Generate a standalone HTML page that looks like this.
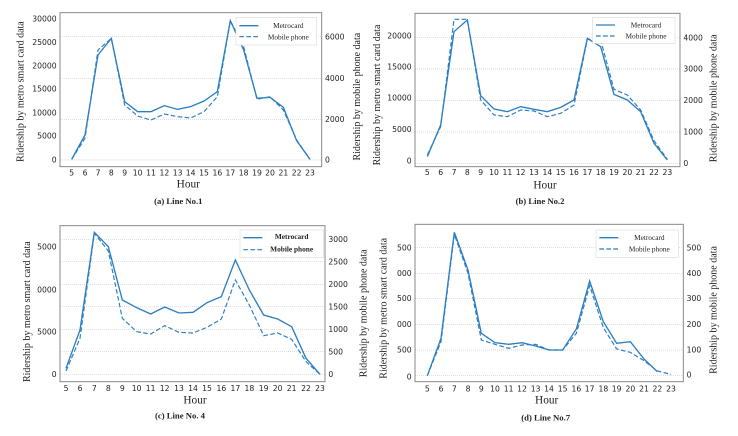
<!DOCTYPE html>
<html><head><meta charset="utf-8"><style>
html,body{margin:0;padding:0;background:#fff;width:738px;height:436px;overflow:hidden;position:relative}
svg{position:absolute}
.t{font-family:"DejaVu Sans","Liberation Sans",sans-serif;font-size:23px;fill:#222}
.s{font-family:"Liberation Serif",serif;fill:#222}
.g{stroke:#ccc;stroke-width:2;stroke-dasharray:3 3}
.m{fill:none;stroke:#2b7ec1;stroke-width:4}
.p{fill:none;stroke:#2b7ec1;stroke-width:3.5;stroke-dasharray:14 7}
.f{fill:none;stroke:#888;stroke-width:3}
</style></head><body>

<!-- (a) -->
<svg style="left:0;top:0" width="370" height="215" viewBox="0 0 1110 645">
<line class="g" x1="180" x2="965" y1="110" y2="110"/><line class="g" x1="180" x2="965" y1="235" y2="235"/><line class="g" x1="180" x2="965" y1="358" y2="358"/><line class="g" x1="180" x2="965" y1="480" y2="480"/>
<rect class="f" x="180" y="38" width="785" height="462"/>
<g class="t" text-anchor="end"><text x="170" y="64">30000</text><text x="170" y="135">25000</text><text x="170" y="205">20000</text><text x="170" y="275">15000</text><text x="170" y="346">10000</text><text x="170" y="416">5000</text><text x="170" y="487">0</text></g>
<g class="t"><text x="975" y="118">6000</text><text x="975" y="243">4000</text><text x="975" y="366">2000</text><text x="975" y="488">0</text></g>
<g class="t" text-anchor="middle"><text x="215" y="527">5</text><text x="255" y="527">6</text><text x="294" y="527">7</text><text x="334" y="527">8</text><text x="374" y="527">9</text><text x="413" y="527">10</text><text x="453" y="527">11</text><text x="493" y="527">12</text><text x="533" y="527">13</text><text x="572" y="527">14</text><text x="612" y="527">15</text><text x="652" y="527">16</text><text x="691" y="527">17</text><text x="731" y="527">18</text><text x="771" y="527">19</text><text x="810" y="527">20</text><text x="850" y="527">21</text><text x="890" y="527">22</text><text x="930" y="527">23</text></g>
<polyline class="m" points="215,478 255,405 294,165 334,115 374,305 413,335 453,335 493,317 533,328 572,320 612,303 652,275 691,62 731,150 771,295 810,292 850,322 890,422 930,478"/>
<polyline class="p" points="215,478 255,415 294,150 334,115 374,315 413,348 453,360 493,342 533,350 572,354 612,335 652,290 691,62 731,140 771,298 810,290 850,330 890,420 930,478"/>
<rect x="708" y="52" width="242" height="83" fill="#fff" stroke="#ddd" stroke-width="2"/>
<line x1="718" x2="775" y1="77" y2="77" class="m"/><line x1="718" x2="775" y1="110" y2="110" class="p"/>
<text class="s" x="865" y="84" font-size="22" text-anchor="middle">Metrocard</text><text class="s" x="865" y="118" font-size="22" text-anchor="middle">Mobile phone</text>
<text class="s" x="565" y="562" font-size="34" text-anchor="middle">Hour</text>
<text class="s" x="535" y="612" font-size="26" font-weight="bold" text-anchor="middle">(a) Line  No.1</text>
<text class="s" font-size="30" text-anchor="middle" transform="translate(70,275) rotate(-90)">Ridership by metro smart card data</text>
<text class="s" font-size="30" text-anchor="middle" transform="translate(1080,290) rotate(-90)">Ridership by mobile phone data</text>
</svg>

<!-- (b) -->
<svg style="left:370px;top:0" width="368" height="215" viewBox="0 0 1104 645">
<line class="g" x1="135" x2="930" y1="113" y2="113"/><line class="g" x1="135" x2="930" y1="207" y2="207"/><line class="g" x1="135" x2="930" y1="301" y2="301"/><line class="g" x1="135" x2="930" y1="396" y2="396"/><line class="g" x1="135" x2="930" y1="490" y2="490"/>
<rect class="f" x="135" y="40" width="795" height="460"/>
<g class="t" text-anchor="end"><text x="125" y="115">20000</text><text x="125" y="209">15000</text><text x="125" y="302">10000</text><text x="125" y="396">5000</text><text x="125" y="490">0</text></g>
<g class="t"><text x="940" y="121">4000</text><text x="940" y="215">3000</text><text x="940" y="309">2000</text><text x="940" y="404">1000</text><text x="940" y="498">0</text></g>
<g class="t" text-anchor="middle"><text x="172" y="525">5</text><text x="212" y="525">6</text><text x="252" y="525">7</text><text x="292" y="525">8</text><text x="332" y="525">9</text><text x="372" y="525">10</text><text x="412" y="525">11</text><text x="452" y="525">12</text><text x="492" y="525">13</text><text x="532" y="525">14</text><text x="572" y="525">15</text><text x="612" y="525">16</text><text x="652" y="525">17</text><text x="692" y="525">18</text><text x="732" y="525">19</text><text x="772" y="525">20</text><text x="812" y="525">21</text><text x="852" y="525">22</text><text x="892" y="525">23</text></g>
<polyline class="m" points="172,470 212,375 252,95 292,60 332,287 372,327 412,335 452,320 492,328 532,335 572,322 612,300 652,115 692,140 732,283 772,300 812,335 852,430 892,480"/>
<polyline class="p" points="172,465 212,380 252,58 292,58 332,300 372,345 412,350 452,330 492,333 532,350 572,340 612,315 652,118 692,120 732,268 772,285 812,330 852,422 892,478"/>
<rect x="668" y="52" width="247" height="78" fill="#fff" stroke="#ddd" stroke-width="2"/>
<line x1="678" x2="735" y1="75" y2="75" class="m"/><line x1="678" x2="735" y1="108" y2="108" class="p"/>
<text class="s" x="828" y="82" font-size="22" text-anchor="middle">Metrocard</text><text class="s" x="828" y="116" font-size="22" text-anchor="middle">Mobile phone</text>
<text class="s" x="525" y="565" font-size="34" text-anchor="middle">Hour</text>
<text class="s" x="510" y="612" font-size="26" font-weight="bold" text-anchor="middle">(b) Line No.2</text>
<text class="s" font-size="30" text-anchor="middle" transform="translate(30,285) rotate(-90)">Ridership by metro smart card data</text>
<text class="s" font-size="30" text-anchor="middle" transform="translate(1040,295) rotate(-90)">Ridership by mobile phone data</text>
</svg>

<!-- (c) -->
<svg style="left:0;top:215px" width="370" height="221" viewBox="0 0 1110 663">
<line class="g" x1="180" x2="975" y1="73" y2="73"/><line class="g" x1="180" x2="975" y1="140" y2="140"/><line class="g" x1="180" x2="975" y1="208" y2="208"/><line class="g" x1="180" x2="975" y1="275" y2="275"/><line class="g" x1="180" x2="975" y1="343" y2="343"/><line class="g" x1="180" x2="975" y1="410" y2="410"/><line class="g" x1="180" x2="975" y1="478" y2="478"/>
<rect class="f" x="180" y="32" width="795" height="468"/>
<g class="t" text-anchor="end"><text x="170" y="103">5000</text><text x="170" y="233">0000</text><text x="170" y="358">5000</text><text x="170" y="486">0</text></g>
<g class="t"><text x="985" y="81">3000</text><text x="985" y="148">2500</text><text x="985" y="216">2000</text><text x="985" y="283">1500</text><text x="985" y="351">1000</text><text x="985" y="418">500</text><text x="985" y="486">0</text></g>
<g class="t" text-anchor="middle"><text x="198" y="528">5</text><text x="240" y="528">6</text><text x="283" y="528">7</text><text x="325" y="528">8</text><text x="367" y="528">9</text><text x="410" y="528">10</text><text x="452" y="528">11</text><text x="494" y="528">12</text><text x="537" y="528">13</text><text x="579" y="528">14</text><text x="621" y="528">15</text><text x="664" y="528">16</text><text x="706" y="528">17</text><text x="748" y="528">18</text><text x="791" y="528">19</text><text x="833" y="528">20</text><text x="875" y="528">21</text><text x="918" y="528">22</text><text x="960" y="528">23</text></g>
<polyline class="m" points="198,460 240,345 283,52 325,95 367,255 410,278 452,297 494,276 537,294 579,292 621,263 664,245 706,135 748,225 791,300 833,312 875,335 918,430 960,478"/>
<polyline class="p" points="198,468 240,370 283,55 325,108 367,310 410,350 452,357 494,332 537,352 579,354 621,337 664,312 706,195 748,270 791,362 833,354 875,373 918,440 960,478"/>
<rect x="720" y="45" width="250" height="83" fill="#fff" stroke="#ddd" stroke-width="2"/>
<line x1="730" x2="787" y1="68" y2="68" class="m"/><line x1="730" x2="787" y1="104" y2="104" class="p"/>
<text class="s" x="875" y="72" font-size="22" font-weight="bold" text-anchor="middle">Metrocard</text><text class="s" x="875" y="110" font-size="22" font-weight="bold" text-anchor="middle">Mobile phone</text>
<text class="s" x="585" y="565" font-size="34" text-anchor="middle">Hour</text>
<text class="s" x="540" y="610" font-size="26" font-weight="bold" text-anchor="middle">(c) Line No. 4</text>
<text class="s" font-size="30" text-anchor="middle" transform="translate(90,290) rotate(-90)">Ridership by metro smart card data</text>
<text class="s" font-size="30" text-anchor="middle" transform="translate(1100,295) rotate(-90)">Ridership by mobile phone data</text>
</svg>

<!-- (d) -->
<svg style="left:370px;top:215px" width="368" height="221" viewBox="0 0 1104 663">
<line class="g" x1="135" x2="940" y1="98" y2="98"/><line class="g" x1="135" x2="940" y1="175" y2="175"/><line class="g" x1="135" x2="940" y1="250" y2="250"/><line class="g" x1="135" x2="940" y1="328" y2="328"/><line class="g" x1="135" x2="940" y1="405" y2="405"/><line class="g" x1="135" x2="940" y1="482" y2="482"/>
<rect class="f" x="135" y="28" width="805" height="472"/>
<g class="t" text-anchor="end"><text x="125" y="106">500</text><text x="125" y="183">000</text><text x="125" y="258">500</text><text x="125" y="336">000</text><text x="125" y="413">500</text><text x="125" y="493">0</text></g>
<g class="t"><text x="950" y="106">500</text><text x="950" y="183">400</text><text x="950" y="258">300</text><text x="950" y="336">200</text><text x="950" y="413">100</text><text x="950" y="488">0</text></g>
<g class="t" text-anchor="middle"><text x="172" y="530">5</text><text x="213" y="530">6</text><text x="253" y="530">7</text><text x="294" y="530">8</text><text x="334" y="530">9</text><text x="375" y="530">10</text><text x="416" y="530">11</text><text x="456" y="530">12</text><text x="497" y="530">13</text><text x="537" y="530">14</text><text x="578" y="530">15</text><text x="619" y="530">16</text><text x="659" y="530">17</text><text x="700" y="530">18</text><text x="740" y="530">19</text><text x="781" y="530">20</text><text x="822" y="530">21</text><text x="862" y="530">22</text><text x="903" y="530">23</text></g>
<polyline class="m" points="172,482 213,370 253,52 294,165 334,355 375,383 416,388 456,383 497,393 537,405 578,405 619,342 659,198 700,320 740,385 781,380 822,432 862,470"/>
<polyline class="p" points="172,482 213,380 253,58 294,175 334,375 375,388 416,400 456,390 497,388 537,405 578,405 619,355 659,212 700,338 740,402 781,412 822,437 862,468 903,478"/>
<rect x="678" y="45" width="247" height="82" fill="#fff" stroke="#ddd" stroke-width="2"/>
<line x1="688" x2="745" y1="68" y2="68" class="m"/><line x1="688" x2="745" y1="102" y2="102" class="p"/>
<text class="s" x="838" y="75" font-size="22" text-anchor="middle">Metrocard</text><text class="s" x="838" y="109" font-size="22" text-anchor="middle">Mobile phone</text>
<text class="s" x="530" y="565" font-size="34" text-anchor="middle">Hour</text>
<text class="s" x="527" y="616" font-size="26" font-weight="bold" text-anchor="middle">(d) Line No.7</text>
<text class="s" font-size="30" text-anchor="middle" transform="translate(50,280) rotate(-90)">Ridership by metro smart card data</text>
<text class="s" font-size="30" text-anchor="middle" transform="translate(1040,285) rotate(-90)">Ridership by mobile phone data</text>
</svg>
</body></html>
